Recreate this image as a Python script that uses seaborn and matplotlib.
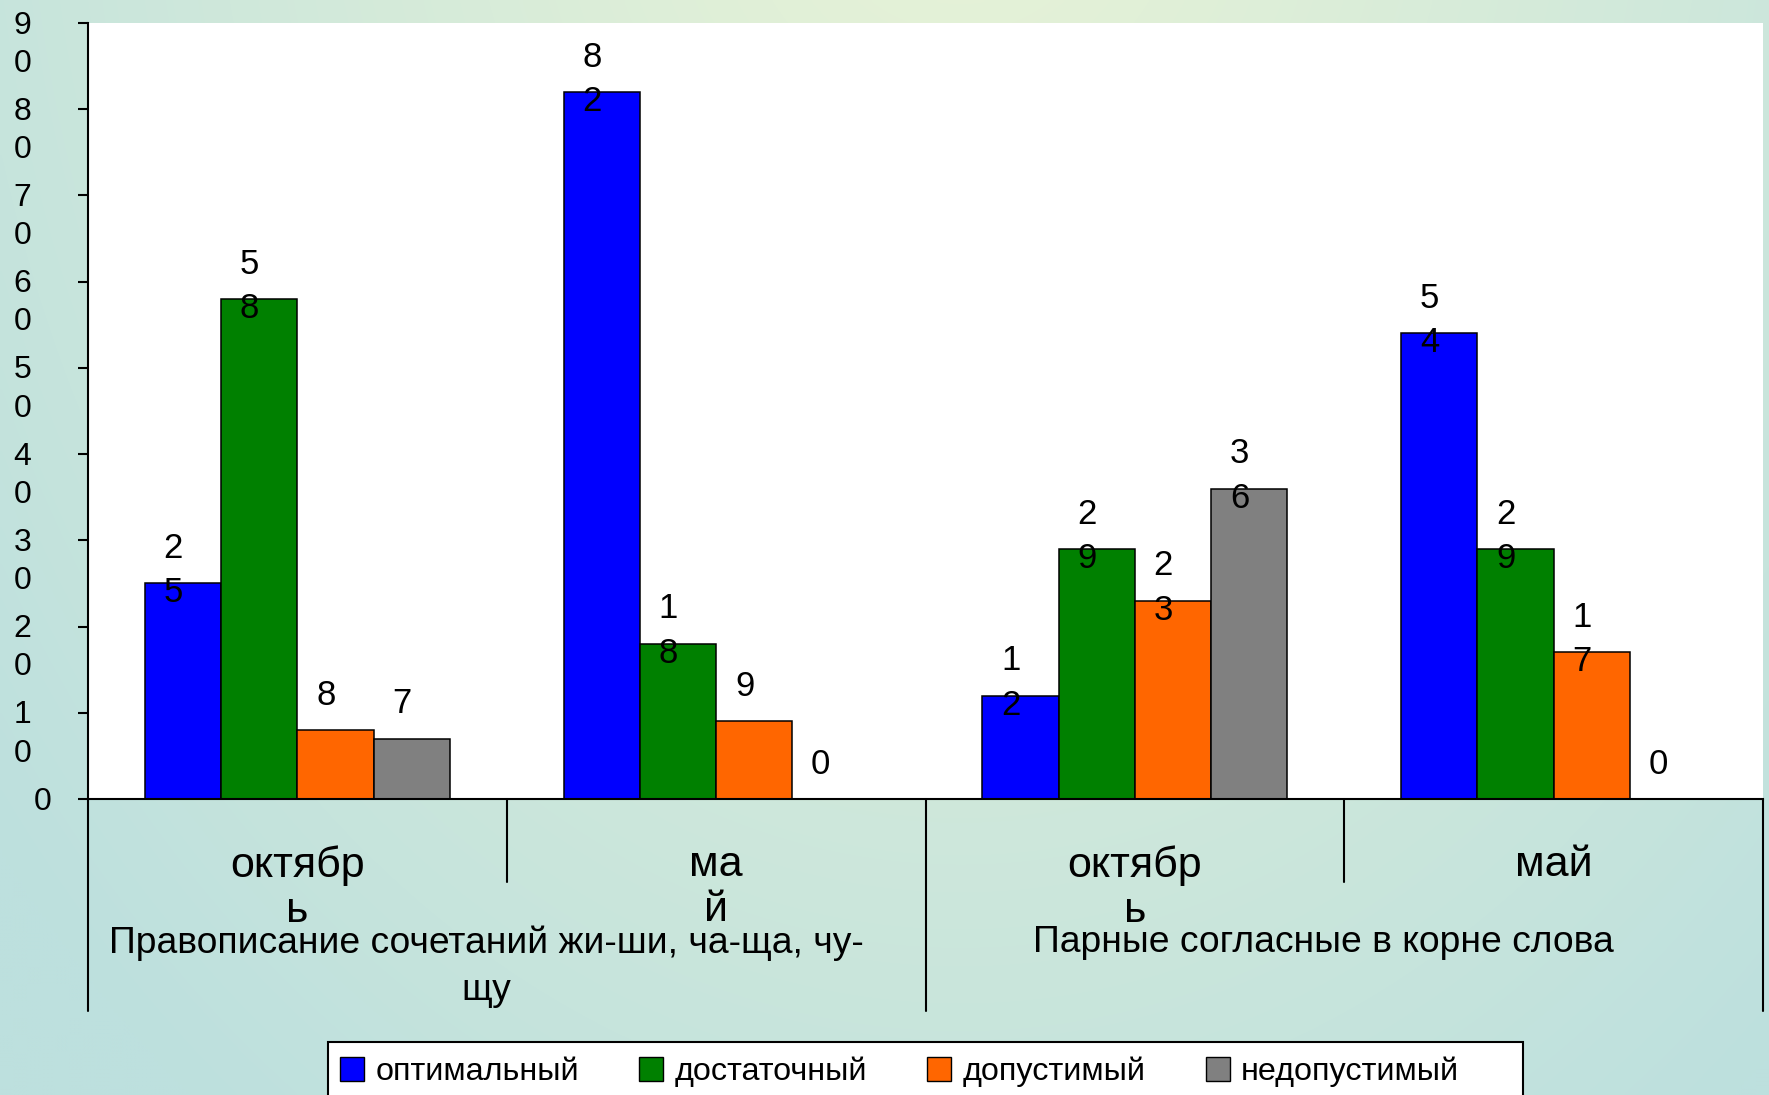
import numpy as np
import pandas as pd
import seaborn as sns
import matplotlib
import matplotlib.pyplot as plt
from matplotlib.patches import Patch, Rectangle

matplotlib.use('Agg')

# chart data
periods = ["октябрь", "май", "октябрь", "май"]
period_labels = ["октябр\nь", "ма\nй", "октябр\nь", "май"]
topics = ["Правописание сочетаний жи-ши, ча-ща, чу-\nщу", "Парные согласные в корне слова"]
levels = ["оптимальный", "достаточный", "допустимый", "недопустимый"]
optimal = [25, 82, 12, 54]
sufficient = [58, 18, 29, 29]
acceptable = [8, 9, 23, 17]
unacceptable = [7, 0, 36, 0]
colors = ["#0000FF", "#008000", "#FF6600", "#808080"]
y_ticks = [0, 10, 20, 30, 40, 50, 60, 70, 80, 90]

sns.set_style("white")
plt.rcParams['font.family'] = ['Liberation Sans', 'DejaVu Sans']
plt.rcParams['text.color'] = 'black'
plt.rcParams['xtick.color'] = 'black'
plt.rcParams['ytick.color'] = 'black'

# long table for seaborn
keys = [f"{i}_{p}" for i, p in enumerate(periods)]
rows = []
for lvl, vals in zip(levels, [optimal, sufficient, acceptable, unacceptable]):
    for k, v in zip(keys, vals):
        rows.append({"period": k, "level": lvl, "value": v})
df = pd.DataFrame(rows)

W, H = 1769, 1095
fig = plt.figure(figsize=(W / 100, H / 100), dpi=100)

# background gradient
bg = fig.add_axes([0, 0, 1, 1], zorder=-10)
yy, xx = np.mgrid[0:H:4, 0:W:4]
d = np.sqrt((xx - 960) ** 2 + (0.75 * (yy + 220)) ** 2)
f = np.clip(d / 1250, 0, 1)[..., None]
light = np.array([0xea, 0xf4, 0xd6]) / 255
teal = np.array([0xbd, 0xe0, 0xde]) / 255
bg.imshow(light * (1 - f) + teal * f, aspect='auto', interpolation='bilinear')
bg.axis('off')

ax = fig.add_axes([88 / W, 1 - 799 / H, (1763 - 88) / W, (799 - 23) / H])
ax.set_facecolor("white")

sns.barplot(data=df, x="period", y="value", hue="level", order=keys,
            hue_order=levels, palette=colors, saturation=1, width=0.728,
            errorbar=None, edgecolor="black", linewidth=1.1, legend=False, ax=ax)

ax.set_xlim(-0.5, 3.5)
ax.set_ylim(0, 90)
ax.set_yticks(y_ticks)
ax.set_xlabel("")
ax.set_ylabel("")
for s in ["top", "right"]:
    ax.spines[s].set_visible(False)
for s in ["left", "bottom"]:
    ax.spines[s].set_linewidth(1.5)
    ax.spines[s].set_color("black")

ax.tick_params(axis='y', direction='out', length=7.5, width=1.5,
               left=True, labelleft=False)
ax.tick_params(axis='x', length=0, pad=33, labelsize=31)
ax.set_xticks(range(len(keys)))
ax.set_xticklabels(period_labels)
for lbl in ax.get_xticklabels():
    lbl.set_va('top')
    lbl.set_linespacing(1.18)

# y tick labels, wrapped like the original
for v in y_ticks:
    txt = "\n".join(str(v)) if v else "0"
    xpos = -0.039 if v else -0.027
    ax.annotate(txt, (xpos, v), xycoords=('axes fraction', 'data'),
                xytext=(0, 9), textcoords='offset points',
                ha='center', va='top', fontsize=23, linespacing=1.36,
                annotation_clip=False)

# value labels above bars
for cont in ax.containers:
    for bar in cont.patches:
        h = bar.get_height()
        txt = "\n".join(str(int(h))) if h >= 10 else str(int(h))
        ax.annotate(txt, (bar.get_x() + bar.get_width() / 2, h),
                    xytext=(-7, 37), textcoords='offset points',
                    ha='center', va='top', fontsize=25, linespacing=1.44)

# category separators below the axis
bounds = [-0.5, 0.5, 1.5, 2.5, 3.5]
lengths = [-0.273, -0.107, -0.273, -0.107, -0.273]
for b, ln in zip(bounds, lengths):
    ax.plot([b, b], [0, ln], transform=ax.get_xaxis_transform(),
            color='black', lw=1.5, clip_on=False)

# topic labels
for i, t in enumerate(topics):
    ax.annotate(t, (2 * i + 0.5, 0), xycoords=('data', 'axes fraction'),
                xytext=(-15, -91), textcoords='offset points',
                ha='center', va='top', fontsize=26.8, linespacing=1.45,
                annotation_clip=False)

# legend with a frame cut by the bottom edge
fig.patches.append(Rectangle((328 / W, -0.02), (1523 - 328) / W, 0.02 + 1 - 1042 / H,
                             transform=fig.transFigure, facecolor='white',
                             edgecolor='black', lw=1.5, zorder=1))
handles = [Patch(facecolor=c, edgecolor='black', lw=1) for c in colors]
leg = fig.legend(handles, levels, loc='center left',
                 bbox_to_anchor=(340 / W, 1 - 1072 / H), ncol=4, frameon=False,
                 fontsize=23.3, handlelength=0.75, handleheight=0.75,
                 handletextpad=0.35, columnspacing=1.85, borderpad=0,
                 borderaxespad=0)
leg.set_zorder(5)

fig.savefig("out.png", dpi=100)
